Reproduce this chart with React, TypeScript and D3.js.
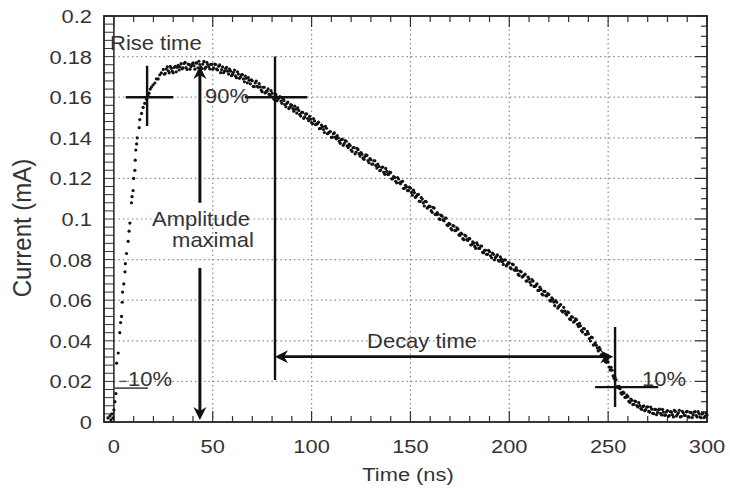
import React from 'react';
import * as d3 from 'd3';

const W = 730;
const H = 489;

const xDomain = [-5, 300];
const yDomain = [0, 0.2];
const xTickValues = [0, 50, 100, 150, 200, 250, 300];
const xTickLabels = ['0', '50', '100', '150', '200', '250', '300'];
const yTickValues = [0, 0.02, 0.04, 0.06, 0.08, 0.1, 0.12, 0.14, 0.16, 0.18, 0.2];
const yTickLabels = ['0', '0.02', '0.04', '0.06', '0.08', '0.1', '0.12', '0.14', '0.16', '0.18', '0.2'];
const xLabel = 'Time (ns)';
const yLabel = 'Current (mA)';

// Leading edge samples (time ns, current mA)
const riseTime = [-3, -2, -1.5, -1, -0.5, 0, 0.5, 1, 1.4, 2.2, 3, 3.4, 3.9, 4.2, 4.4, 5, 5.6, 5.8, 6.4, 7.2, 7.7, 8.1, 8.9, 9.2, 9.7, 10, 10.6, 10.8, 11.1, 11.5, 11.8, 12.8, 13.1, 14, 14.8, 15.6, 16.5, 17.2, 17.8, 18.4, 19, 19.8, 20.7, 21.5, 22.4, 23.2, 24];
const riseCurrent = [0.002, 0.003, 0.001, 0.004, 0.002, 0.006, 0.010, 0.014, 0.029, 0.034, 0.044, 0.049, 0.052, 0.059, 0.064, 0.068, 0.074, 0.078, 0.083, 0.089, 0.094, 0.098, 0.108, 0.111, 0.114, 0.120, 0.124, 0.129, 0.134, 0.137, 0.140, 0.145, 0.149, 0.152, 0.155, 0.157, 0.159, 0.161, 0.162, 0.164, 0.165, 0.166, 0.167, 0.169, 0.169, 0.171, 0.172];

// Main pulse body, sampled every 1 ns starting at 25 ns
const bodyStartA = 25;
const bodyCurrentA = [
  0.1737, 0.1718, 0.1749, 0.1720, 0.1743,
  0.1720, 0.1752, 0.1747, 0.1734, 0.1765, 0.1744, 0.1772, 0.1737, 0.1761, 0.1751,
  0.1769, 0.1738, 0.1768, 0.1777, 0.1748, 0.1763, 0.1740, 0.1772, 0.1750, 0.1762,
  0.1738, 0.1763, 0.1738, 0.1752, 0.1721, 0.1749, 0.1729, 0.1747, 0.1714, 0.1728,
  0.1712, 0.1734, 0.1696, 0.1714, 0.1699, 0.1711, 0.1676, 0.1693, 0.1697, 0.1666,
  0.1681, 0.1652, 0.1679, 0.1649, 0.1651, 0.1627, 0.1649, 0.1627, 0.1641, 0.1609,
  0.1619, 0.1590, 0.1612, 0.1592, 0.1603, 0.1570, 0.1584, 0.1553, 0.1576, 0.1551,
  0.1560, 0.1531, 0.1541, 0.1548, 0.1515, 0.1525, 0.1496, 0.1517, 0.1495, 0.1506,
  0.1475, 0.1494, 0.1465, 0.1470, 0.1445, 0.1463, 0.1441, 0.1456, 0.1420, 0.1428,
  0.1402, 0.1420, 0.1403, 0.1411, 0.1383, 0.1391, 0.1363, 0.1386, 0.1360, 0.1369,
  0.1340, 0.1352, 0.1321, 0.1348, 0.1322, 0.1327, 0.1300, 0.1308, 0.1313, 0.1277,
  0.1292, 0.1271, 0.1287, 0.1251, 0.1259, 0.1241, 0.1256, 0.1220, 0.1235, 0.1220,
  0.1229, 0.1198, 0.1205, 0.1178, 0.1197, 0.1174, 0.1186, 0.1151, 0.1158, 0.1140,
  0.1152, 0.1117, 0.1130, 0.1112, 0.1121, 0.1087, 0.1098, 0.1064, 0.1085, 0.1059,
  0.1061, 0.1033, 0.1054, 0.1021, 0.1024, 0.0998, 0.1014, 0.0991, 0.1004, 0.0967,
  0.0975, 0.0946, 0.0965, 0.0943, 0.0950, 0.0919, 0.0927, 0.0898, 0.0916, 0.0894,
  0.0903, 0.0874, 0.0881, 0.0855, 0.0873, 0.0855, 0.0867, 0.0834, 0.0846, 0.0826,
  0.0839, 0.0809, 0.0826, 0.0810, 0.0823, 0.0792, 0.0802, 0.0776, 0.0798, 0.0776,
  0.0784, 0.0755, 0.0775, 0.0747, 0.0747, 0.0722, 0.0740, 0.0719, 0.0728, 0.0695,
  0.0705, 0.0675, 0.0694, 0.0668, 0.0681, 0.0648, 0.0653, 0.0626, 0.0643, 0.0621,
  0.0628, 0.0595, 0.0604, 0.0573, 0.0590, 0.0568, 0.0578, 0.0542, 0.0548, 0.0528,
  0.0539, 0.0504, 0.0516, 0.0496, 0.0504, 0.0470, 0.0474, 0.0443, 0.0459, 0.0432,
  0.0435, 0.0399, 0.0416, 0.0381, 0.0378, 0.0350, 0.0357, 0.0329, 0.0333, 0.0294,
  0.0296, 0.0256, 0.0255, 0.0215, 0.0208, 0.0169, 0.0164, 0.0137, 0.0143, 0.0122,
  0.0125, 0.0096, 0.0107, 0.0087, 0.0101, 0.0074, 0.0081, 0.0062, 0.0079, 0.0061,
  0.0075, 0.0049, 0.0063, 0.0041, 0.0062, 0.0047, 0.0063, 0.0035, 0.0049, 0.0035,
  0.0056, 0.0032, 0.0049, 0.0025, 0.0052, 0.0037, 0.0058, 0.0027, 0.0045, 0.0032,
  0.0052, 0.0024, 0.0046, 0.0035, 0.0051, 0.0025, 0.0041, 0.0021, 0.0044, 0.0028,
  0.0035,
];

// Interleaved samples, every 1 ns starting at 25.5 ns
const bodyStartB = 25.5;
const bodyCurrentB = [
  0.1713, 0.1739, 0.1730, 0.1752, 0.1728,
  0.1746, 0.1725, 0.1757, 0.1749, 0.1740, 0.1766, 0.1746, 0.1763, 0.1738, 0.1762,
  0.1755, 0.1769, 0.1745, 0.1761, 0.1741, 0.1776, 0.1748, 0.1761, 0.1739, 0.1762,
  0.1744, 0.1761, 0.1734, 0.1759, 0.1736, 0.1721, 0.1741, 0.1728, 0.1738, 0.1706,
  0.1723, 0.1705, 0.1725, 0.1693, 0.1710, 0.1690, 0.1704, 0.1671, 0.1683, 0.1686,
  0.1653, 0.1670, 0.1654, 0.1667, 0.1635, 0.1649, 0.1621, 0.1630, 0.1615, 0.1632,
  0.1600, 0.1616, 0.1583, 0.1597, 0.1581, 0.1593, 0.1564, 0.1570, 0.1544, 0.1564,
  0.1544, 0.1556, 0.1522, 0.1535, 0.1507, 0.1525, 0.1503, 0.1518, 0.1484, 0.1492,
  0.1469, 0.1483, 0.1467, 0.1477, 0.1446, 0.1455, 0.1426, 0.1447, 0.1424, 0.1431,
  0.1403, 0.1424, 0.1395, 0.1399, 0.1373, 0.1393, 0.1372, 0.1383, 0.1352, 0.1362,
  0.1333, 0.1352, 0.1330, 0.1342, 0.1310, 0.1319, 0.1294, 0.1316, 0.1288, 0.1297,
  0.1270, 0.1287, 0.1264, 0.1271, 0.1238, 0.1255, 0.1230, 0.1249, 0.1220, 0.1231,
  0.1198, 0.1209, 0.1186, 0.1204, 0.1178, 0.1184, 0.1151, 0.1166, 0.1140, 0.1157,
  0.1131, 0.1142, 0.1106, 0.1120, 0.1087, 0.1106, 0.1079, 0.1087, 0.1054, 0.1064,
  0.1041, 0.1057, 0.1023, 0.1032, 0.1001, 0.1019, 0.0996, 0.1005, 0.0971, 0.0979,
  0.0953, 0.0967, 0.0943, 0.0957, 0.0922, 0.0930, 0.0903, 0.0921, 0.0899, 0.0904,
  0.0872, 0.0888, 0.0865, 0.0882, 0.0856, 0.0867, 0.0836, 0.0846, 0.0826, 0.0846,
  0.0819, 0.0832, 0.0799, 0.0816, 0.0796, 0.0813, 0.0790, 0.0799, 0.0769, 0.0785,
  0.0761, 0.0778, 0.0749, 0.0760, 0.0727, 0.0743, 0.0714, 0.0723, 0.0694, 0.0714,
  0.0688, 0.0701, 0.0668, 0.0673, 0.0648, 0.0664, 0.0630, 0.0644, 0.0623, 0.0633,
  0.0599, 0.0612, 0.0591, 0.0598, 0.0561, 0.0575, 0.0548, 0.0565, 0.0534, 0.0542,
  0.0508, 0.0519, 0.0492, 0.0508, 0.0481, 0.0486, 0.0450, 0.0460, 0.0432, 0.0446,
  0.0411, 0.0418, 0.0379, 0.0390, 0.0364, 0.0368, 0.0331, 0.0332, 0.0298, 0.0308,
  0.0271, 0.0269, 0.0227, 0.0218, 0.0174, 0.0176, 0.0143, 0.0147, 0.0121, 0.0132,
  0.0102, 0.0113, 0.0086, 0.0103, 0.0081, 0.0095, 0.0066, 0.0076, 0.0056, 0.0074,
  0.0052, 0.0074, 0.0043, 0.0062, 0.0036, 0.0060, 0.0042, 0.0062, 0.0033, 0.0050,
  0.0028, 0.0051, 0.0036, 0.0057, 0.0029, 0.0045, 0.0025, 0.0053, 0.0033, 0.0050,
  0.0026, 0.0047, 0.0022, 0.0049, 0.0032, 0.0051, 0.0025, 0.0040, 0.0021, 0.0044,
];

// Annotation geometry in data units
const riseCross = { t: 16.8, v: 0.16, t0: 6, t1: 30, v0: 0.1458, v1: 0.1755 };
const peakCross = { t: 81.5, v: 0.16, t0: 66.3, t1: 97.8, v0: 0.0207, v1: 0.18 };
const endCross = { t: 253.5, v: 0.0172, t0: 243.4, t1: 275.3, v0: 0.0074, v1: 0.0468 };
const ampArrow = { t: 43.5, top: 0.1754, bottom: 0.001, gapTop: 0.108, gapBottom: 0.0759 };
const decayArrow = { v: 0.0322, t0: 81.5, t1: 252.6 };
const tenLine = { v: 0.0167, t0: 0, t1: 17.2 };

const FONT = '"Liberation Sans", Arial, Helvetica, sans-serif';

export default function App() {
  const left = 104, right = 707, top = 16, bottom = 422;
  const x = d3.scaleLinear().domain(xDomain).range([left, right]);
  const y = d3.scaleLinear().domain(yDomain).range([bottom, top]);

  const points = [
    ...riseTime.map((t, i) => [t, riseCurrent[i]]),
    ...bodyCurrentA.map((v, i) => [bodyStartA + i, v]),
    ...bodyCurrentB.map((v, i) => [bodyStartB + i, v]),
  ];

  const minorX = d3.range(0, 301, 10);
  const rightMinorY = d3.range(0, 0.2001, 0.005);
  const leftBoxY = d3.range(0, 0.2001, 0.004);
  const gridX = xTickValues.filter((v) => v > 0 && v < 300);
  const gridY = yTickValues.filter((v) => v > 0 && v < 0.2);

  const ink = '#111';
  const txt = '#333';
  const lw = 2.4;

  const arrowV = (tx: number, ty: number, dir: number) => {
    const L = 13, Wd = 6.5, notch = 9;
    return `M${tx},${ty} L${tx - Wd},${ty - dir * L} L${tx},${ty - dir * notch} L${tx + Wd},${ty - dir * L} Z`;
  };
  const arrowH = (tx: number, ty: number, dir: number) => {
    const L = 13, Wd = 6.5, notch = 9;
    return `M${tx},${ty} L${tx - dir * L},${ty - Wd} L${tx - dir * notch},${ty} L${tx - dir * L},${ty + Wd} Z`;
  };

  const ht = (s: string, tx: number, ty: number, size: number, anchor: string, sx = 1.1) => (
    <text
      transform={`translate(${tx},${ty}) scale(${sx},1)`}
      textAnchor={anchor}
      fontSize={size}
      fontFamily={FONT}
      fill={txt}
    >
      {s}
    </text>
  );

  return (
    <svg width={W} height={H} style={{ position: 'absolute', left: 0, top: 0, background: '#fff' }}>
      <rect x={0} y={0} width={W} height={H} fill="#fff" />
      {gridX.map((v) => (
        <line key={'gx' + v} x1={x(v)} x2={x(v)} y1={top} y2={bottom} stroke="#8a8a8a" strokeWidth={1.2} strokeDasharray="1.5,3" />
      ))}
      {gridY.map((v) => (
        <line key={'gy' + v} x1={x(0)} x2={right} y1={y(v)} y2={y(v)} stroke="#8a8a8a" strokeWidth={1.2} strokeDasharray="1.5,3" />
      ))}
      {leftBoxY.map((v, i) => (
        <line key={'lb' + i} x1={left} x2={x(0)} y1={y(v)} y2={y(v)} stroke="#333" strokeWidth={1} />
      ))}
      <line x1={x(0)} x2={x(0)} y1={top} y2={bottom} stroke="#222" strokeWidth={1.5} />
      {rightMinorY.map((v, i) => {
        const major = Math.abs(v / 0.02 - Math.round(v / 0.02)) < 1e-6;
        return <line key={'rt' + i} x1={right} x2={right - (major ? 12 : 6)} y1={y(v)} y2={y(v)} stroke="#333" strokeWidth={1.2} />;
      })}
      {minorX.map((v) => {
        const major = v % 50 === 0;
        const len = major ? 11 : 6;
        return (
          <g key={'xt' + v}>
            <line x1={x(v)} x2={x(v)} y1={top} y2={top + len} stroke="#333" strokeWidth={1.2} />
            <line x1={x(v)} x2={x(v)} y1={bottom} y2={bottom - len} stroke="#333" strokeWidth={1.2} />
          </g>
        );
      })}
      <rect x={left} y={top} width={right - left} height={bottom - top} fill="none" stroke="#222" strokeWidth={1.8} />

      {points.map((p, i) => (
        <circle key={'p' + i} cx={x(p[0])} cy={y(p[1])} r={1.6} fill={ink} />
      ))}

      <line x1={x(riseCross.t)} x2={x(riseCross.t)} y1={y(riseCross.v0)} y2={y(riseCross.v1)} stroke={ink} strokeWidth={lw} />
      <line x1={x(riseCross.t0)} x2={x(riseCross.t1)} y1={y(riseCross.v)} y2={y(riseCross.v)} stroke={ink} strokeWidth={lw} />
      <line x1={x(peakCross.t)} x2={x(peakCross.t)} y1={y(peakCross.v0)} y2={y(peakCross.v1)} stroke={ink} strokeWidth={lw} />
      <line x1={x(peakCross.t0)} x2={x(peakCross.t1)} y1={y(peakCross.v)} y2={y(peakCross.v)} stroke={ink} strokeWidth={lw} />
      <line x1={x(endCross.t)} x2={x(endCross.t)} y1={y(endCross.v0)} y2={y(endCross.v1)} stroke={ink} strokeWidth={lw} />
      <line x1={x(endCross.t0)} x2={x(endCross.t1)} y1={y(endCross.v)} y2={y(endCross.v)} stroke={ink} strokeWidth={lw} />
      <line x1={x(tenLine.t0)} x2={x(tenLine.t1)} y1={y(tenLine.v)} y2={y(tenLine.v)} stroke="#555" strokeWidth={1.6} />
      <line x1={x(3)} x2={x(6.5)} y1={y(0.02)} y2={y(0.02)} stroke="#555" strokeWidth={1.4} />

      <line x1={x(ampArrow.t)} x2={x(ampArrow.t)} y1={y(ampArrow.top) + 8} y2={y(ampArrow.gapTop)} stroke={ink} strokeWidth={3} />
      <line x1={x(ampArrow.t)} x2={x(ampArrow.t)} y1={y(ampArrow.gapBottom)} y2={y(ampArrow.bottom) - 8} stroke={ink} strokeWidth={3} />
      <path d={arrowV(x(ampArrow.t), y(ampArrow.top), -1)} fill={ink} />
      <path d={arrowV(x(ampArrow.t), y(ampArrow.bottom), 1)} fill={ink} />

      <line x1={x(decayArrow.t0) + 8} x2={x(decayArrow.t1) - 8} y1={y(decayArrow.v)} y2={y(decayArrow.v)} stroke={ink} strokeWidth={2.6} />
      <path d={arrowH(x(decayArrow.t0), y(decayArrow.v), -1)} fill={ink} />
      <path d={arrowH(x(decayArrow.t1), y(decayArrow.v), 1)} fill={ink} />

      {ht('Rise time', 110, 50, 20, 'start')}
      {ht('90%', 205, 103, 20, 'start')}
      {ht('Amplitude', 201, 226, 20, 'middle')}
      {ht('maximal', 213, 247, 20, 'middle')}
      {ht('Decay time', 422, 348, 20, 'middle')}
      {ht('10%', 128, 386, 20, 'start')}
      {ht('10%', 642, 386, 20, 'start')}

      {xTickValues.map((v, i) => (
        <g key={'xl' + v}>{ht(xTickLabels[i], x(v), 453, 19, 'middle', 1.15)}</g>
      ))}
      {yTickValues.map((v, i) => (
        <g key={'yl' + i}>{ht(yTickLabels[i], 92, y(v) + 7, 19, 'end', 1.15)}</g>
      ))}

      {ht(xLabel, 408, 481, 19, 'middle', 1.15)}
      <text
        transform={`translate(31,228) scale(1.08,1) rotate(-90)`}
        textAnchor="middle"
        fontSize={24}
        fontFamily={FONT}
        fill={txt}
      >
        {yLabel}
      </text>
    </svg>
  );
}
